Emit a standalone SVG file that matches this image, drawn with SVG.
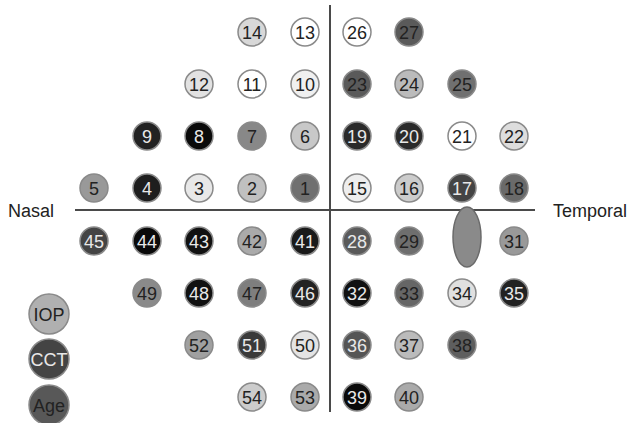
<svg xmlns="http://www.w3.org/2000/svg" width="631" height="423" viewBox="0 0 631 423">
<style>
.n circle{stroke:#8a8a8a;stroke-width:1.5}
.n text{font-family:"Liberation Sans",Arial,sans-serif;font-size:18px;text-anchor:middle;fill:#222}
.n text.l{fill:#e8e8e8}
.axis{stroke:#4a4a4a;stroke-width:2;fill:none}
.lab{font-family:"Liberation Sans",Arial,sans-serif;font-size:18px;fill:#222}
.lg text{font-size:18px}
</style>
<rect width="631" height="423" fill="#fff"/>
<g id="connectors">
<line class="axis" x1="75" y1="210" x2="535" y2="210"/>
<line class="axis" x1="330" y1="5" x2="330" y2="412"/>
</g>
<text class="lab" x="8" y="217">Nasal</text>
<text class="lab" x="553" y="217">Temporal</text>
<g id="blindspot"><ellipse cx="467" cy="237" rx="14" ry="30" fill="#8a8a8a" stroke="#6a6a6a" stroke-width="1.5"/></g>
<g id="n14" class="n"><circle cx="252" cy="32" r="14" fill="#d8d8d8"/><text x="252" y="38.5">14</text></g>
<g id="n13" class="n"><circle cx="305" cy="32" r="14" fill="#ffffff"/><text x="305" y="38.5">13</text></g>
<g id="n26" class="n"><circle cx="357" cy="32" r="14" fill="#ffffff"/><text x="357" y="38.5">26</text></g>
<g id="n27" class="n"><circle cx="409" cy="32" r="14" fill="#5a5a5a"/><text x="409" y="38.5">27</text></g>
<g id="n12" class="n"><circle cx="199" cy="84" r="14" fill="#e2e2e2"/><text x="199" y="90.5">12</text></g>
<g id="n11" class="n"><circle cx="252" cy="84" r="14" fill="#ffffff"/><text x="252" y="90.5">11</text></g>
<g id="n10" class="n"><circle cx="305" cy="84" r="14" fill="#f0f0f0"/><text x="305" y="90.5">10</text></g>
<g id="n23" class="n"><circle cx="357" cy="84" r="14" fill="#5a5a5a"/><text x="357" y="90.5">23</text></g>
<g id="n24" class="n"><circle cx="409" cy="84" r="14" fill="#bbbbbb"/><text x="409" y="90.5">24</text></g>
<g id="n25" class="n"><circle cx="462" cy="84" r="14" fill="#707070"/><text x="462" y="90.5">25</text></g>
<g id="n9" class="n"><circle cx="147" cy="136" r="14" fill="#222222"/><text class="l" x="147" y="142.5">9</text></g>
<g id="n8" class="n"><circle cx="199" cy="136" r="14" fill="#0a0a0a"/><text class="l" x="199" y="142.5">8</text></g>
<g id="n7" class="n"><circle cx="252" cy="136" r="14" fill="#888888"/><text x="252" y="142.5">7</text></g>
<g id="n6" class="n"><circle cx="305" cy="136" r="14" fill="#c8c8c8"/><text x="305" y="142.5">6</text></g>
<g id="n19" class="n"><circle cx="357" cy="136" r="14" fill="#2a2a2a"/><text class="l" x="357" y="142.5">19</text></g>
<g id="n20" class="n"><circle cx="409" cy="136" r="14" fill="#2a2a2a"/><text class="l" x="409" y="142.5">20</text></g>
<g id="n21" class="n"><circle cx="462" cy="136" r="14" fill="#ffffff"/><text x="462" y="142.5">21</text></g>
<g id="n22" class="n"><circle cx="514" cy="136" r="14" fill="#dddddd"/><text x="514" y="142.5">22</text></g>
<g id="n5" class="n"><circle cx="94" cy="188" r="14" fill="#999999"/><text x="94" y="194.5">5</text></g>
<g id="n4" class="n"><circle cx="147" cy="188" r="14" fill="#1e1e1e"/><text class="l" x="147" y="194.5">4</text></g>
<g id="n3" class="n"><circle cx="199" cy="188" r="14" fill="#e8e8e8"/><text x="199" y="194.5">3</text></g>
<g id="n2" class="n"><circle cx="252" cy="188" r="14" fill="#c0c0c0"/><text x="252" y="194.5">2</text></g>
<g id="n1" class="n"><circle cx="305" cy="188" r="14" fill="#707070"/><text x="305" y="194.5">1</text></g>
<g id="n15" class="n"><circle cx="357" cy="188" r="14" fill="#eeeeee"/><text x="357" y="194.5">15</text></g>
<g id="n16" class="n"><circle cx="409" cy="188" r="14" fill="#cccccc"/><text x="409" y="194.5">16</text></g>
<g id="n17" class="n"><circle cx="462" cy="188" r="14" fill="#444444"/><text class="l" x="462" y="194.5">17</text></g>
<g id="n18" class="n"><circle cx="514" cy="188" r="14" fill="#6a6a6a"/><text x="514" y="194.5">18</text></g>
<g id="n45" class="n"><circle cx="94" cy="241" r="14" fill="#444444"/><text class="l" x="94" y="247.5">45</text></g>
<g id="n44" class="n"><circle cx="147" cy="241" r="14" fill="#0a0a0a"/><text class="l" x="147" y="247.5">44</text></g>
<g id="n43" class="n"><circle cx="199" cy="241" r="14" fill="#111111"/><text class="l" x="199" y="247.5">43</text></g>
<g id="n42" class="n"><circle cx="252" cy="241" r="14" fill="#aaaaaa"/><text x="252" y="247.5">42</text></g>
<g id="n41" class="n"><circle cx="305" cy="241" r="14" fill="#1a1a1a"/><text class="l" x="305" y="247.5">41</text></g>
<g id="n28" class="n"><circle cx="357" cy="241" r="14" fill="#5a5a5a"/><text class="l" x="357" y="247.5">28</text></g>
<g id="n29" class="n"><circle cx="409" cy="241" r="14" fill="#6e6e6e"/><text x="409" y="247.5">29</text></g>
<g id="n31" class="n"><circle cx="514" cy="241" r="14" fill="#999999"/><text x="514" y="247.5">31</text></g>
<g id="n49" class="n"><circle cx="147" cy="293" r="14" fill="#8a8a8a"/><text x="147" y="299.5">49</text></g>
<g id="n48" class="n"><circle cx="199" cy="293" r="14" fill="#111111"/><text class="l" x="199" y="299.5">48</text></g>
<g id="n47" class="n"><circle cx="252" cy="293" r="14" fill="#7e7e7e"/><text x="252" y="299.5">47</text></g>
<g id="n46" class="n"><circle cx="305" cy="293" r="14" fill="#222222"/><text class="l" x="305" y="299.5">46</text></g>
<g id="n32" class="n"><circle cx="357" cy="293" r="14" fill="#111111"/><text class="l" x="357" y="299.5">32</text></g>
<g id="n33" class="n"><circle cx="409" cy="293" r="14" fill="#666666"/><text x="409" y="299.5">33</text></g>
<g id="n34" class="n"><circle cx="462" cy="293" r="14" fill="#e0e0e0"/><text x="462" y="299.5">34</text></g>
<g id="n35" class="n"><circle cx="514" cy="293" r="14" fill="#222222"/><text class="l" x="514" y="299.5">35</text></g>
<g id="n52" class="n"><circle cx="199" cy="345" r="14" fill="#a0a0a0"/><text x="199" y="351.5">52</text></g>
<g id="n51" class="n"><circle cx="252" cy="345" r="14" fill="#3a3a3a"/><text class="l" x="252" y="351.5">51</text></g>
<g id="n50" class="n"><circle cx="305" cy="345" r="14" fill="#e4e4e4"/><text x="305" y="351.5">50</text></g>
<g id="n36" class="n"><circle cx="357" cy="345" r="14" fill="#555555"/><text class="l" x="357" y="351.5">36</text></g>
<g id="n37" class="n"><circle cx="409" cy="345" r="14" fill="#bbbbbb"/><text x="409" y="351.5">37</text></g>
<g id="n38" class="n"><circle cx="462" cy="345" r="14" fill="#5e5e5e"/><text x="462" y="351.5">38</text></g>
<g id="n54" class="n"><circle cx="252" cy="397" r="14" fill="#cccccc"/><text x="252" y="403.5">54</text></g>
<g id="n53" class="n"><circle cx="305" cy="397" r="14" fill="#aaaaaa"/><text x="305" y="403.5">53</text></g>
<g id="n39" class="n"><circle cx="357" cy="397" r="14" fill="#0a0a0a"/><text class="l" x="357" y="403.5">39</text></g>
<g id="n40" class="n"><circle cx="409" cy="397" r="14" fill="#aaaaaa"/><text x="409" y="403.5">40</text></g>
<g id="legend-iop" class="n lg"><circle cx="49" cy="314" r="20" fill="#b0b0b0"/><text x="49" y="320.5">IOP</text></g>
<g id="legend-cct" class="n lg"><circle cx="49" cy="359" r="20" fill="#444444"/><text class="l" x="49" y="365.5">CCT</text></g>
<g id="legend-age" class="n lg"><circle cx="49" cy="405" r="20" fill="#585858"/><text x="49" y="411.5">Age</text></g>
</svg>
